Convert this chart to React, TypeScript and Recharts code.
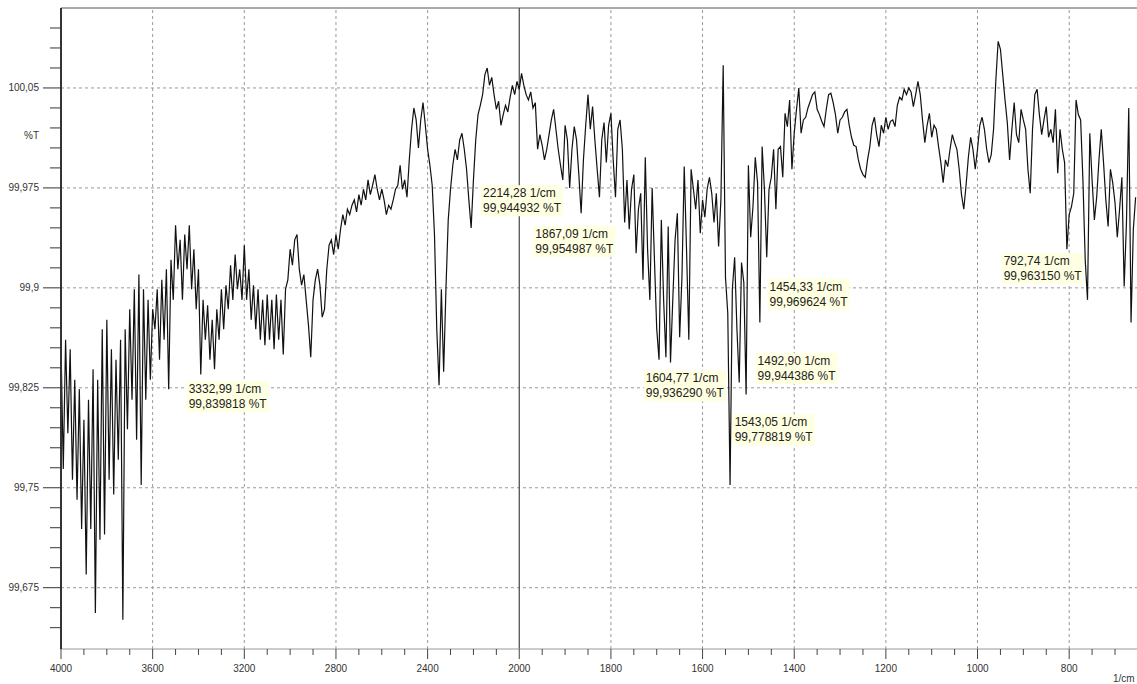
import { LineChart, Line, XAxis, YAxis, ReferenceLine, ReferenceDot } from 'recharts';

// %T values, evenly sampled; upper part of the spectrum every 10 1/cm, lower part every 5 1/cm
const band4000to3000 = [
  99.857, 99.764, 99.861, 99.791, 99.854, 99.756, 99.831, 99.741, 99.824, 99.719,
  99.801, 99.685, 99.816, 99.719, 99.839, 99.656, 99.831, 99.711, 99.869, 99.715,
  99.876, 99.756, 99.854, 99.745, 99.846, 99.771, 99.861, 99.651, 99.869, 99.794,
  99.884, 99.816, 99.899, 99.786, 99.910, 99.752, 99.899, 99.816, 99.891, 99.831,
  99.884, 99.869, 99.899, 99.846, 99.906, 99.861, 99.914, 99.824, 99.921, 99.891,
  99.947, 99.914, 99.936, 99.891, 99.940, 99.914, 99.947, 99.899, 99.929, 99.884,
  99.914, 99.835, 99.891, 99.861, 99.887, 99.846, 99.876, 99.839, 99.884, 99.861,
  99.899, 99.869, 99.902, 99.884, 99.917, 99.891, 99.925, 99.899, 99.914, 99.891,
  99.932, 99.891, 99.914, 99.876, 99.902, 99.869, 99.899, 99.861, 99.891, 99.857,
  99.895, 99.861, 99.891, 99.854, 99.895, 99.861, 99.891, 99.850, 99.899, 99.906,
  99.929,
];

const band2990to2000 = [
  99.917, 99.936, 99.940, 99.914, 99.902, 99.910, 99.891, 99.872, 99.848, 99.891,
  99.906, 99.914, 99.902, 99.878, 99.884, 99.914, 99.932, 99.936, 99.925, 99.940,
  99.929, 99.944, 99.955, 99.947, 99.959, 99.955, 99.962, 99.966, 99.957, 99.970,
  99.962, 99.974, 99.966, 99.981, 99.970, 99.977, 99.985, 99.974, 99.966, 99.974,
  99.966, 99.955, 99.962, 99.959, 99.966, 99.974, 99.977, 99.992, 99.974, 99.981,
  99.968, 99.996, 100.019, 100.035, 100.026, 100.005, 100.026, 100.039, 100.022, 100.004,
  99.992, 99.977, 99.940, 99.869, 99.827, 99.899, 99.837, 99.899, 99.951, 99.974,
  99.992, 100.004, 99.996, 100.011, 100.016, 100.004, 99.989, 99.966, 99.945, 99.981,
  100.011, 100.030, 100.037, 100.045, 100.060, 100.065, 100.052, 100.058, 100.045, 100.034,
  100.040, 100.022, 100.030, 100.037, 100.032, 100.043, 100.052, 100.045, 100.055, 100.049,
];

const band1995to1300 = [
  100.061, 100.052, 100.045, 100.041, 100.047, 100.035, 100.039, 100.004, 100.015, 100.007,
  99.996, 100.004, 100.015, 100.026, 100.034, 100.019, 100.004, 99.992, 99.981, 100.022,
  100.011, 99.975, 100.004, 100.021, 100.011, 99.985, 99.956, 99.996, 100.022, 100.045,
  100.019, 100.036, 100.011, 99.989, 99.968, 100.011, 100.024, 99.994, 100.022, 100.031,
  99.996, 99.968, 100.019, 100.026, 100.004, 99.949, 99.981, 99.944, 99.974, 99.985,
  99.926, 99.959, 99.971, 99.906, 99.998, 99.929, 99.891, 99.975, 99.921, 99.869,
  99.846, 99.951, 99.891, 99.848, 99.946, 99.844, 99.891, 99.936, 99.956, 99.863,
  99.908, 99.991, 99.929, 99.861, 99.989, 99.974, 99.959, 99.981, 99.941, 99.966,
  99.953, 99.974, 99.983, 99.971, 99.949, 99.971, 99.931, 99.966, 100.067, 99.908,
  99.881, 99.752, 99.899, 99.923, 99.869, 99.829, 99.919, 99.904, 99.820, 99.992,
  99.938, 99.961, 99.998, 99.979, 99.874, 100.006, 99.974, 99.923, 99.974, 99.983,
  100.004, 99.959, 100.004, 100.006, 99.983, 100.031, 100.021, 100.041, 99.989, 100.016,
  100.034, 100.050, 100.016, 100.026, 100.028, 100.035, 100.040, 100.045, 100.047, 100.034,
  100.030, 100.025, 100.021, 100.034, 100.045, 100.046, 100.039, 100.030, 100.016, 100.026,
];

const band1295to655 = [
  100.028, 100.032, 100.034, 100.022, 100.013, 100.007, 100.006, 99.996, 99.989, 99.985,
  99.983, 99.996, 100.006, 100.022, 100.028, 100.015, 100.006, 100.022, 100.016, 100.028,
  100.019, 100.025, 100.026, 100.021, 100.037, 100.043, 100.041, 100.049, 100.045, 100.050,
  100.047, 100.036, 100.045, 100.055, 100.045, 100.026, 100.009, 100.022, 100.031, 100.013,
  100.022, 100.019, 100.006, 99.994, 99.979, 99.996, 99.991, 100.004, 100.015, 100.009,
  100.004, 99.989, 99.970, 99.959, 99.977, 99.998, 100.013, 100.004, 99.989, 100.004,
  100.022, 100.028, 100.019, 100.004, 99.994, 100.000, 100.019, 100.056, 100.085, 100.079,
  100.060, 100.041, 100.024, 99.996, 100.019, 100.039, 100.015, 100.009, 100.034, 100.026,
  100.019, 99.989, 99.971, 100.019, 100.045, 100.049, 100.030, 100.015, 100.026, 100.036,
  100.013, 100.019, 100.009, 100.034, 99.986, 100.019, 100.004, 99.994, 99.929, 99.955,
  99.961, 99.971, 100.041, 100.030, 100.026, 99.981, 99.921, 99.891, 100.016, 99.981,
  99.951, 99.968, 99.996, 100.019, 99.994, 99.966, 99.946, 99.989, 99.979, 99.964,
  99.938, 99.959, 99.983, 99.901, 99.949, 100.035, 99.874, 99.944, 99.968,
];

const bands = [
  { start: 4000, step: 10, values: band4000to3000 },
  { start: 2990, step: 10, values: band2990to2000 },
  { start: 1995, step: 5, values: band1995to1300 },
  { start: 1295, step: 5, values: band1295to655 },
];

const xMajorTicks = [4000, 3600, 3200, 2800, 2400, 2000, 1800, 1600, 1400, 1200, 1000, 800];
const xMinorTicks = [
  3900, 3800, 3700, 3500, 3400, 3300, 3100, 3000, 2900, 2700, 2600, 2500, 2300, 2200, 2100,
  1950, 1900, 1850, 1750, 1700, 1650, 1550, 1500, 1450, 1350, 1300, 1250, 1150, 1100, 1050,
  950, 900, 850, 750, 700,
];
const yMajorTicks = [100.05, 99.975, 99.9, 99.825, 99.75, 99.675];
const yMinorTicks = [
  100.095, 100.08, 100.065, 100.035, 100.02, 100.005, 99.99, 99.96, 99.945, 99.93, 99.915,
  99.885, 99.87, 99.855, 99.84, 99.81, 99.795, 99.78, 99.765, 99.735, 99.72, 99.705, 99.69,
  99.66, 99.645,
];

const peakNotes = [
  { wn: 3443, t: 99.824, lines: ['3332,99 1/cm', '99,839818 %T'] },
  { wn: 2158, t: 99.971, lines: ['2214,28 1/cm', '99,944932 %T'] },
  { wn: 1965, t: 99.9405, lines: ['1867,09 1/cm', '99,954987 %T'] },
  { wn: 1724, t: 99.832, lines: ['1604,77 1/cm', '99,936290 %T'] },
  { wn: 1530, t: 99.799, lines: ['1543,05 1/cm', '99,778819 %T'] },
  { wn: 1480, t: 99.845, lines: ['1492,90 1/cm', '99,944386 %T'] },
  { wn: 1454, t: 99.901, lines: ['1454,33 1/cm', '99,969624 %T'] },
  { wn: 943, t: 99.92, lines: ['792,74 1/cm', '99,963150 %T'] },
];

// below 2000 1/cm the axis is stretched 2x, same as the instrument plot
const toAxis = (wn: number) => (wn >= 2000 ? 4000 - wn : 2000 + 2 * (2000 - wn));
const fromAxis = (u: number) => Math.round(u <= 2000 ? 4000 - u : 2000 - (u - 2000) / 2);

const X_END = toAxis(652);
const Y_MIN = 99.629;
const Y_MAX = 100.11;
const FONT = '"Liberation Sans", Arial, sans-serif';

const chartData = bands.flatMap((b) =>
  b.values.map((t, i) => {
    const wn = b.start - i * b.step;
    return { u: toAxis(wn), wn, t };
  })
);

const xTicks = [...xMajorTicks, ...xMinorTicks].map(toAxis).sort((a, b) => a - b);
const yTicks = [...yMajorTicks, ...yMinorTicks].sort((a, b) => a - b);

const XTick = (props: any) => {
  const { x, y, payload } = props;
  const wn = fromAxis(payload.value);
  const major = xMajorTicks.includes(wn);
  return (
    <g>
      <line x1={x} x2={x} y1={y} y2={y + (major ? 10 : 6)} stroke="#444" />
      {major && (
        <text x={x} y={y + 23} textAnchor="middle" fontSize={10} fill="#333" fontFamily={FONT}>
          {wn}
        </text>
      )}
    </g>
  );
};

const YTick = (props: any) => {
  const { x, y, payload } = props;
  const major = yMajorTicks.some((v) => Math.abs(v - payload.value) < 1e-6);
  return (
    <g>
      <line x1={x - (major ? 18 : 11)} x2={x} y1={y} y2={y} stroke="#333" />
      {major && (
        <text x={x - 22} y={y + 3.5} textAnchor="end" fontSize={10} fill="#333" fontFamily={FONT}>
          {String(payload.value).replace('.', ',')}
        </text>
      )}
    </g>
  );
};

const NoteBox = ({ cx, cy, lines }: { cx: number; cy: number; lines: string[] }) => (
  <g>
    <rect x={cx - 2} y={cy - 8} width={82} height={31} fill="#FFFFE1" />
    {lines.map((s, i) => (
      <text key={i} x={cx} y={cy + 4 + i * 15} fontSize={12} fill="#222" fontFamily={FONT}>
        {s}
      </text>
    ))}
  </g>
);

export default function App() {
  return (
    <div style={{ position: 'absolute', left: 0, top: 0, width: 1137, height: 684, background: '#fff', fontFamily: FONT }}>
      <LineChart width={1137} height={684} data={chartData} margin={{ top: 8, right: 0, left: 0, bottom: 0 }}>
        <XAxis
          type="number"
          dataKey="u"
          domain={[0, X_END]}
          allowDataOverflow
          ticks={xTicks}
          interval={0}
          tick={<XTick />}
          tickLine={false}
          tickSize={0}
          tickMargin={0}
          height={35}
          axisLine={{ stroke: '#999' }}
        />
        <YAxis
          type="number"
          domain={[Y_MIN, Y_MAX]}
          allowDataOverflow
          ticks={yTicks}
          interval={0}
          tick={<YTick />}
          tickLine={false}
          tickSize={0}
          tickMargin={0}
          width={61}
          axisLine={{ stroke: '#333', strokeWidth: 2 }}
        />
        {yMajorTicks.map((v) => (
          <ReferenceLine key={'h' + v} y={v} stroke="#999" strokeDasharray="3 3" />
        ))}
        {xMajorTicks
          .filter((wn) => wn !== 4000 && wn !== 2000)
          .map((wn) => (
            <ReferenceLine key={'v' + wn} x={toAxis(wn)} stroke="#999" strokeDasharray="3 3" />
          ))}
        <ReferenceLine y={Y_MAX} stroke="#555" />
        <ReferenceLine x={toAxis(2000)} stroke="#444" strokeWidth={1.2} />
        <Line type="linear" dataKey="t" stroke="#111" strokeWidth={1.2} dot={false} isAnimationActive={false} />
        {peakNotes.map((n) => (
          <ReferenceDot
            key={n.lines[0]}
            x={toAxis(n.wn)}
            y={n.t}
            r={0}
            shape={(p: any) => <NoteBox cx={p.cx} cy={p.cy} lines={n.lines} />}
          />
        ))}
      </LineChart>
      <div style={{ position: 'absolute', left: 24, top: 130, fontSize: 10, color: '#333' }}>%T</div>
      <div style={{ position: 'absolute', left: 1113, top: 673, fontSize: 10, color: '#333' }}>1/cm</div>
    </div>
  );
}
